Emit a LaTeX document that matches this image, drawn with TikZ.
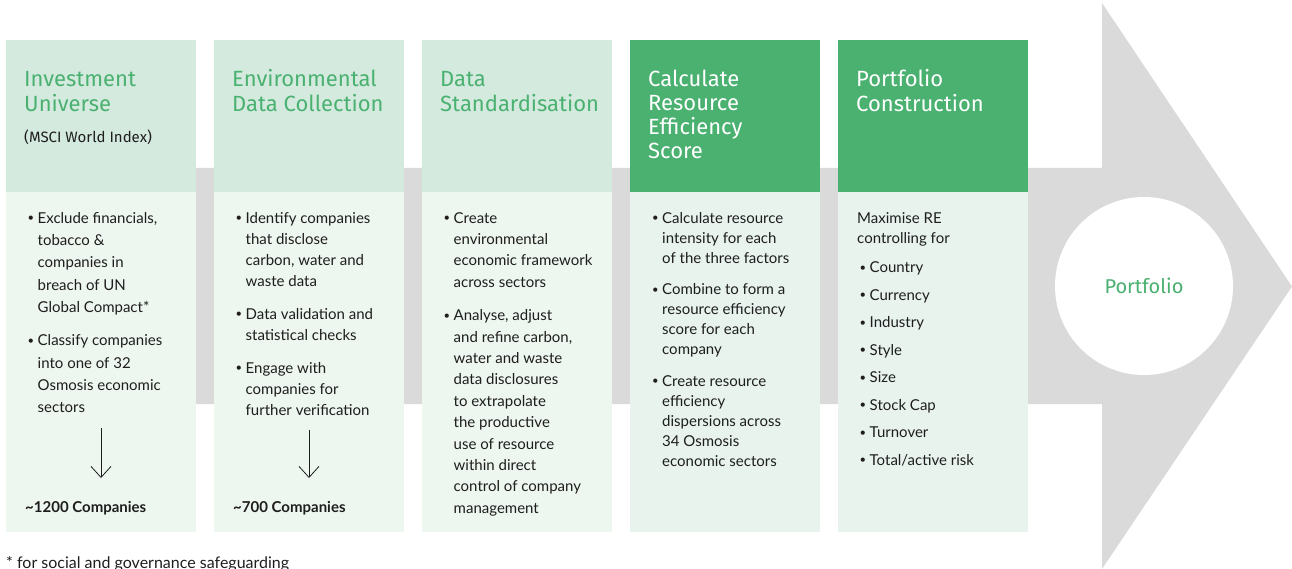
\documentclass[tikz,border=0pt]{standalone}
\usepackage{fontspec}
\setmainfont{Lato}
\newfontfamily\hfont{Fira Sans}
\usetikzlibrary{arrows.meta}
\definecolor{hlight}{HTML}{D4EADF}
\definecolor{blight}{HTML}{EEF6F0}
\definecolor{gdark}{HTML}{4AB170}
\definecolor{bdark}{HTML}{E8F3EE}
\definecolor{bandgray}{HTML}{DADADA}
\definecolor{ink}{HTML}{1E1E1E}
\newcommand\bul{\makebox[10pt][l]{\raisebox{0.2ex}{\scalebox{0.75}{\textbullet}}}}
\newcommand\ind{\hspace*{10pt}}
\begin{document}
\begin{tikzpicture}[x=1pt,y=-1pt,
  box/.style={anchor=north west, inner sep=0pt, minimum width=190pt},
  hbox/.style={box, minimum height=152pt},
  bbox/.style={box, minimum height=340pt},
  txt/.style={anchor=north west, inner sep=0pt, align=left, text=ink},
  htxt/.style={txt, font=\hfont\fontsize{22}{24}\selectfont},
  arr/.style={draw=ink, line width=0.8pt, -{Straight Barb[length=11pt,width=20pt]}}]
\useasboundingbox (0,0) rectangle (1292,569);
% background arrow
\fill[bandgray] (6,168) -- (1102,168) -- (1102,3) -- (1292,286.5) -- (1102,569) -- (1102,404) -- (6,404) -- cycle;
% column boxes
\node[hbox, fill=hlight] (h1) at (6,40) {};
\node[bbox, fill=blight] (b1) at (6,192) {};
\node[hbox, fill=hlight] (h2) at (214,40) {};
\node[bbox, fill=blight] (b2) at (214,192) {};
\node[hbox, fill=hlight] (h3) at (422,40) {};
\node[bbox, fill=blight] (b3) at (422,192) {};
\node[hbox, fill=gdark] (h4) at (630,40) {};
\node[bbox, fill=bdark] (b4) at (630,192) {};
\node[hbox, fill=gdark] (h5) at (838,40) {};
\node[bbox, fill=bdark] (b5) at (838,192) {};
% header texts
\node[htxt, text=gdark] (ht1) at (24,69.2) {\strut Investment\\Universe};
\node[txt, font=\hfont\fontsize{15}{20}\selectfont] (msci) at (24,128) {\strut(MSCI World Index)};
\node[htxt, text=gdark] (ht2) at (232,69.2) {\strut Environmental\\Data Collection};
\node[htxt, text=gdark] (ht3) at (440,69.2) {\strut Data\\Standardisation};
\node[htxt, text=white] (ht4) at (648,69.2) {\strut Calculate\\Resource\\Efficiency\\Score};
\node[htxt, text=white] (ht5) at (856,69.2) {\strut Portfolio\\Construction};
% body texts
\node[txt, font=\fontsize{15}{22.3}\selectfont] (t1) at (27.5,207.4) {\strut\bul Exclude financials,\\\ind tobacco \&\\\ind companies in\\\ind breach of UN\\\ind Global Compact*\\[11.2pt]\bul Classify companies\\\ind into one of 32\\\ind Osmosis economic\\\ind sectors};
\node[txt, font=\fontsize{15}{21}\selectfont] (t2) at (235.5,208.3) {\strut\bul Identify companies\\\ind that disclose\\\ind carbon, water and\\\ind waste data\\[12pt]\bul Data validation and\\\ind statistical checks\\[12pt]\bul Engage with\\\ind companies for\\\ind further verification};
\node[txt, font=\fontsize{15}{21.4}\selectfont] (t3) at (443.5,208) {\strut\bul Create\\\ind environmental\\\ind economic framework\\\ind across sectors\\[11.9pt]\bul Analyse, adjust\\\ind and refine carbon,\\\ind water and waste\\\ind data disclosures\\\ind to extrapolate\\\ind the productive\\\ind use of resource\\\ind within direct\\\ind control of company\\\ind management};
\node[txt, font=\fontsize{15}{20}\selectfont] (t4) at (652,209) {\strut\bul Calculate resource\\\ind intensity for each\\\ind of the three factors\\[11.5pt]\bul Combine to form a\\\ind resource efficiency\\\ind score for each\\\ind company\\[11.5pt]\bul Create resource\\\ind efficiency\\\ind dispersions across\\\ind 34 Osmosis\\\ind economic sectors};
\node[txt, font=\fontsize{15}{20}\selectfont] (t5a) at (857,209.6) {\strut Maximise RE\\controlling for};
\node[txt, font=\fontsize{15}{27.5}\selectfont] (t5b) at (859.5,253.2) {\strut\bul Country\\\bul Currency\\\bul Industry\\\bul Style\\\bul Size\\\bul Stock Cap\\\bul Turnover\\\bul Total/active risk};
% down arrows and counts
\coordinate (a1s) at (101,428);
\coordinate (a1e) at (101,478);
\draw[arr] (a1s) -- (a1e);
\coordinate (a2s) at (309,430);
\coordinate (a2e) at (309,478);
\draw[arr] (a2s) -- (a2e);
\node[txt, font=\bfseries\fontsize{15}{20}\selectfont, anchor=base west] (c1) at (25,512) {\textasciitilde 1200 Companies};
\node[txt, font=\bfseries\fontsize{15}{20}\selectfont, anchor=base west] (c2) at (233,512) {\textasciitilde 700 Companies};
% portfolio circle
\node[circle, fill=white, minimum size=178pt, inner sep=0pt, text=gdark, font=\hfont\fontsize{20}{24}\selectfont] (port) at (1144,286) {Portfolio};
% footnote
\node[txt, font=\fontsize{16}{20}\selectfont, anchor=base west] (fn) at (6,568.5) {* for social and governance safeguarding};
\end{tikzpicture}
\end{document}
